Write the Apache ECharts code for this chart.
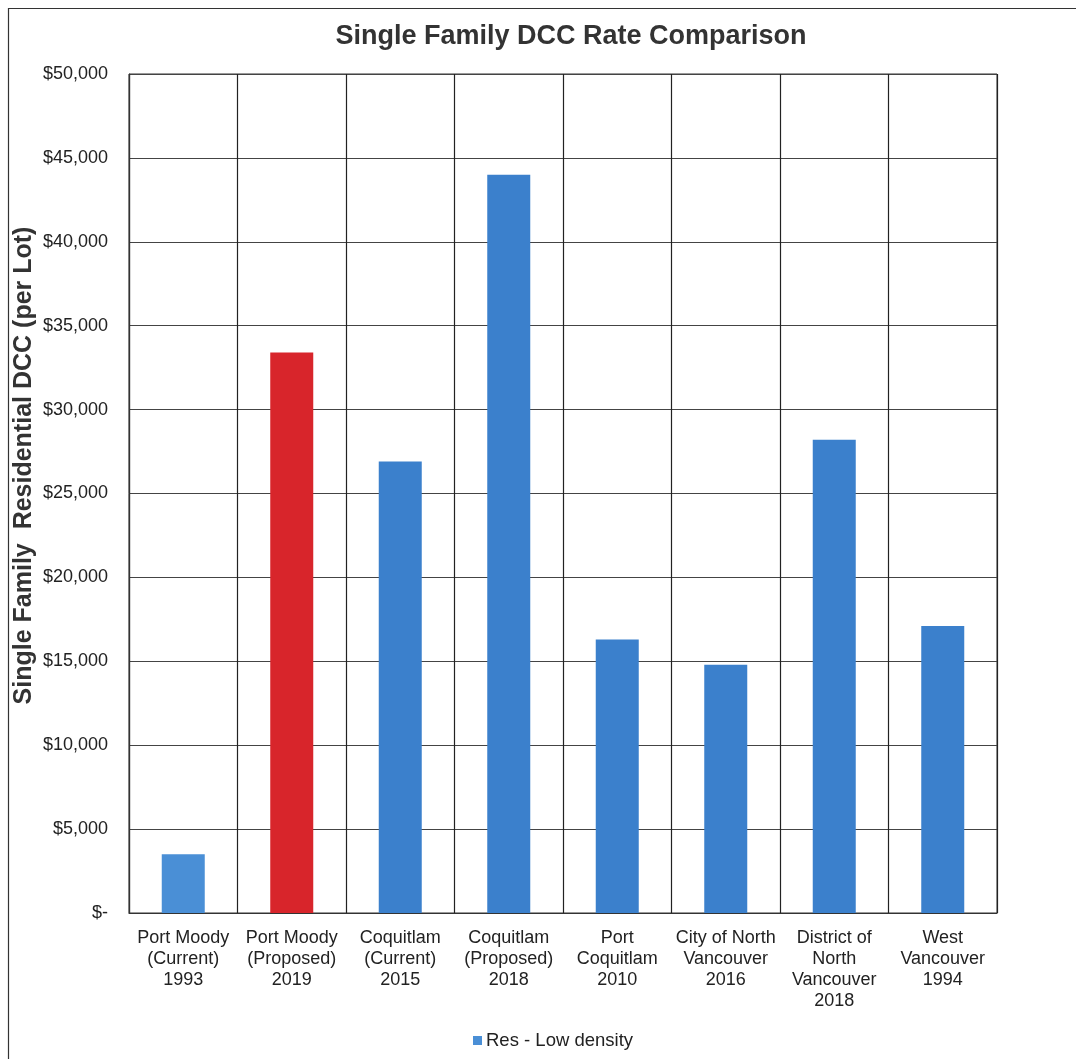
<!DOCTYPE html>
<html>
<head>
<meta charset="utf-8">
<style>
  html, body { margin: 0; padding: 0; background: #fff; }
  #chart { width: 1076px; height: 1059px; }
</style>
<script src="https://cdn.jsdelivr.net/npm/echarts@6/dist/echarts.min.js"></script>
</head>
<body>
<div id="chart"></div>
<script>
// Municipalities compared (label lines separated by \n)
const categories = [
  'Port Moody\n(Current)\n1993',
  'Port Moody\n(Proposed)\n2019',
  'Coquitlam\n(Current)\n2015',
  'Coquitlam\n(Proposed)\n2018',
  'Port\nCoquitlam\n2010',
  'City of North\nVancouver\n2016',
  'District of\nNorth\nVancouver\n2018',
  'West\nVancouver\n1994'
];
// Single family residential DCC per lot ($)
const lowDensityValues = [3500, 33400, 26900, 44000, 16300, 14800, 28200, 17100];
// Index of the highlighted (proposed) rate
const highlightIndex = 1;
const yTicks = { min: 0, max: 50000, interval: 5000 };

const font = '"Liberation Sans", Arial, sans-serif';
const blue = '#3b80cc';
const lightBlue = '#4a8fd6';
const red = '#d8252b';

const chart = echarts.init(document.getElementById('chart'));
chart.setOption({
  animation: false,
  backgroundColor: '#fff',
  graphic: [{
    type: 'rect',
    shape: { x: 8.5, y: 8.5, width: 1080, height: 1060 },
    style: { fill: 'none', stroke: '#333', lineWidth: 1.2 }
  }],
  title: {
    text: 'Single Family DCC Rate Comparison',
    left: 566, top: 18, textAlign: 'center',
    textStyle: { fontFamily: font, fontSize: 27, fontWeight: 'bold', color: '#333' }
  },
  legend: {
    bottom: 4, left: 468,
    itemWidth: 9, itemHeight: 9, itemGap: 5,
    icon: 'rect',
    textStyle: { fontFamily: font, fontSize: 18.5, color: '#222', padding: [0, 0, 0, -1] },
    data: [{ name: 'Res - Low density', itemStyle: { color: lightBlue } }]
  },
  grid: {
    left: 129, right: 79, top: 74, bottom: 146,
    show: true, borderColor: '#333', borderWidth: 1
  },
  xAxis: {
    type: 'category',
    data: categories,
    axisLine: { show: true, lineStyle: { color: '#333', width: 1.2 } },
    axisTick: { show: false },
    splitLine: { show: true, lineStyle: { color: '#222', width: 1.2 } },
    axisLabel: {
      interval: 0, margin: 15,
      fontFamily: font, fontSize: 18, color: '#222', lineHeight: 21
    }
  },
  yAxis: {
    type: 'value',
    min: yTicks.min, max: yTicks.max, interval: yTicks.interval,
    name: 'Single Family  Residential DCC (per Lot)',
    nameLocation: 'middle', nameGap: 92,
    nameMoveOverlap: false,
    nameTextStyle: {
      fontFamily: font, fontSize: 25, fontWeight: 'bold', color: '#333',
      padding: [0, 0, 0, 56]
    },
    axisLine: { show: true, lineStyle: { color: '#333', width: 1.2 } },
    axisTick: { show: false },
    splitLine: { show: true, lineStyle: { color: '#444', width: 1.2 } },
    axisLabel: {
      margin: 21,
      fontFamily: font, fontSize: 18, color: '#222',
      formatter: v => v === 0 ? '$-' : '$' + v.toLocaleString('en-US')
    }
  },
  series: [{
    name: 'Res - Low density',
    type: 'bar',
    barWidth: 43,
    itemStyle: { color: blue },
    data: lowDensityValues.map((v, i) => i === highlightIndex
      ? { value: v, itemStyle: { color: red } }
      : (i === 0 ? { value: v, itemStyle: { color: lightBlue } } : v))
  }]
});
</script>
</body>
</html>
